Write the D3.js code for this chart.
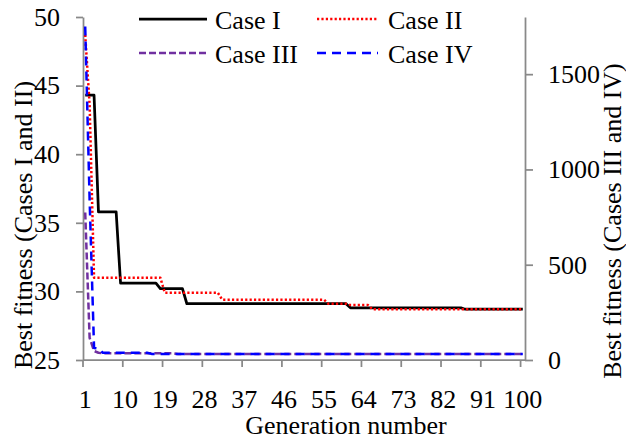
<!DOCTYPE html>
<html>
<head>
<meta charset="utf-8">
<script src="https://cdn.jsdelivr.net/npm/d3@7"></script>
<style>
  html, body { margin: 0; padding: 0; background: #fff; }
  svg text { font-family: "Liberation Serif", "Times New Roman", "DejaVu Serif", serif; font-size: 26px; fill: #000; }
</style>
</head>
<body>
<svg id="chart" width="626" height="439"></svg>
<script>
// generations 1..100 (x categories)
var generations = d3.range(1, 101);
var xTickGens = [1, 10, 19, 28, 37, 46, 55, 64, 73, 82, 91, 100];
var leftTicks = [25, 30, 35, 40, 45, 50];
var rightTicks = [0, 500, 1000, 1500];
var seriesNames = ['Case I', 'Case II', 'Case III', 'Case IV'];

// best fitness per generation
var caseI = [
  44.3, 44.3, 44.3, 35.8, 35.8, 35.8, 35.8, 35.8, 30.6, 30.6,
  30.6, 30.6, 30.6, 30.6, 30.6, 30.6, 30.6, 30.2, 30.2, 30.2,
  30.2, 30.2, 30.2, 29.1, 29.1, 29.1, 29.1, 29.1, 29.1, 29.1,
  29.1, 29.1, 29.1, 29.1, 29.1, 29.1, 29.1, 29.1, 29.1, 29.1,
  29.1, 29.1, 29.1, 29.1, 29.1, 29.1, 29.1, 29.1, 29.1, 29.1,
  29.1, 29.1, 29.1, 29.1, 29.1, 29.1, 29.1, 29.1, 29.1, 29.1,
  28.8, 28.8, 28.8, 28.8, 28.8, 28.8, 28.8, 28.8, 28.8, 28.8,
  28.8, 28.8, 28.8, 28.8, 28.8, 28.8, 28.8, 28.8, 28.8, 28.8,
  28.8, 28.8, 28.8, 28.8, 28.8, 28.8, 28.7, 28.7, 28.7, 28.7,
  28.7, 28.7, 28.7, 28.7, 28.7, 28.7, 28.7, 28.7, 28.7, 28.7
];
var caseII = [
  48.7, 43.6, 31.0, 31.0, 31.0, 31.0, 31.0, 31.0, 31.0, 31.0,
  31.0, 31.0, 31.0, 31.0, 31.0, 31.0, 31.0, 31.0, 29.9, 29.9,
  29.9, 29.9, 29.9, 29.9, 29.9, 29.9, 29.9, 29.9, 29.9, 29.9,
  29.9, 29.4, 29.4, 29.4, 29.4, 29.4, 29.4, 29.4, 29.4, 29.4,
  29.4, 29.4, 29.4, 29.4, 29.4, 29.4, 29.4, 29.4, 29.4, 29.4,
  29.4, 29.4, 29.4, 29.4, 29.4, 29.1, 29.1, 29.1, 29.1, 29.1,
  29.0, 29.0, 29.0, 29.0, 29.0, 28.7, 28.7, 28.7, 28.7, 28.7,
  28.7, 28.7, 28.7, 28.7, 28.7, 28.7, 28.7, 28.7, 28.7, 28.7,
  28.7, 28.7, 28.7, 28.7, 28.7, 28.7, 28.7, 28.7, 28.7, 28.7,
  28.7, 28.7, 28.7, 28.7, 28.7, 28.7, 28.7, 28.7, 28.7, 28.7
];
var caseIII = [
  774, 116, 47, 38, 35, 35, 35, 35, 35, 35,
  35, 35, 35, 35, 35, 35, 35, 35, 35, 35,
  35, 31, 31, 31, 31, 31, 31, 31, 31, 31,
  31, 31, 31, 31, 31, 31, 31, 31, 31, 31,
  31, 31, 31, 31, 31, 31, 31, 31, 31, 31,
  31, 31, 31, 31, 31, 31, 31, 31, 31, 31,
  31, 31, 31, 31, 31, 31, 31, 31, 31, 31,
  31, 31, 31, 31, 31, 31, 31, 31, 31, 31,
  31, 31, 31, 31, 31, 31, 31, 31, 31, 31,
  31, 31, 31, 31, 31, 31, 31, 31, 31, 31
];
var caseIV = [
  1750, 840, 63, 60, 38, 38, 38, 38, 38, 38,
  38, 38, 38, 38, 38, 32, 32, 32, 32, 32,
  32, 32, 32, 32, 32, 32, 32, 32, 32, 32,
  32, 32, 32, 32, 32, 32, 32, 32, 32, 32,
  32, 32, 32, 32, 32, 32, 32, 32, 32, 32,
  32, 32, 32, 32, 32, 32, 32, 32, 32, 32,
  32, 32, 32, 32, 32, 32, 32, 32, 32, 32,
  32, 32, 32, 32, 32, 32, 32, 32, 32, 32,
  32, 32, 32, 32, 32, 32, 32, 32, 32, 32,
  32, 32, 32, 32, 32, 32, 32, 32, 32, 32
];

const AXIS_GREY = '#898989';

var svg = d3.select('#chart');

var x = d3.scaleBand().domain(generations).range([83, 525]).padding(0);
var xMid = (g) => x(g) + x.bandwidth() / 2;
var yLeft = d3.scaleLinear().domain([25, 50]).range([360, 17]);
var yRight = d3.scaleLinear().domain([0, 1800]).range([360, 17]);

// series styles (drawn in Excel order, secondary axis on top)
var series = [
  { name: seriesNames[0], values: caseI, y: yLeft, color: '#000000', width: 2.75, dash: null },
  { name: seriesNames[1], values: caseII, y: yLeft, color: '#ff0000', width: 2.5, dash: '2.2,2.2' },
  { name: seriesNames[2], values: caseIII, y: yRight, color: '#7030a0', width: 2.5, dash: '7,3' },
  { name: seriesNames[3], values: caseIV, y: yRight, color: '#0000ff', width: 2.5, dash: '9,6' },
];

// x axis line + ticks + labels
svg.append('line')
  .attr('x1', 83).attr('x2', 525)
  .attr('y1', 360).attr('y2', 360)
  .attr('stroke', AXIS_GREY).attr('stroke-width', 1.75);

svg.selectAll('line.xtick')
  .data(xTickGens)
  .enter()
  .append('line')
  .attr('class', 'xtick')
  .attr('x1', (d) => x(d)).attr('x2', (d) => x(d))
  .attr('y1', 360).attr('y2', 367)
  .attr('stroke', AXIS_GREY).attr('stroke-width', 1.75);

svg.selectAll('text.xlabel')
  .data(xTickGens)
  .enter()
  .append('text')
  .attr('class', 'xlabel')
  .attr('x', (d) => xMid(d))
  .attr('y', 408)
  .attr('text-anchor', 'middle')
  .text((d) => d);

// left axis
var leftAxis = svg.append('g')
  .attr('transform', 'translate(83,0)')
  .call(d3.axisLeft(yLeft).tickValues(leftTicks).tickFormat(d3.format('d'))
    .tickSize(7).tickSizeOuter(0).tickPadding(16));

// right axis
var rightAxis = svg.append('g')
  .attr('transform', 'translate(525,0)')
  .call(d3.axisRight(yRight).tickValues(rightTicks).tickFormat(d3.format('d'))
    .tickSize(8).tickSizeOuter(0).tickPadding(15));

[leftAxis, rightAxis].forEach((g) => {
  g.attr('font-family', null).attr('font-size', null);
  g.select('.domain').attr('stroke', AXIS_GREY).attr('stroke-width', 1.75);
  g.selectAll('.tick line').attr('stroke', AXIS_GREY).attr('stroke-width', 1.75);
});

// lines
series.forEach((s) => {
  var line = d3.line()
    .x((d, i) => xMid(generations[i]))
    .y((d) => s.y(d));
  svg.append('path')
    .datum(s.values)
    .attr('fill', 'none')
    .attr('stroke', s.color)
    .attr('stroke-width', s.width)
    .attr('stroke-dasharray', s.dash)
    .attr('stroke-linejoin', 'round')
    .attr('d', line);
});

// axis titles
svg.append('text')
  .attr('transform', 'translate(32,225) rotate(-90)')
  .attr('text-anchor', 'middle')
  .text('Best fitness (Cases I and II)');

svg.append('text')
  .attr('transform', 'translate(621,221) rotate(-90)')
  .attr('text-anchor', 'middle')
  .text('Best fitness (Cases III and IV)');

svg.append('text')
  .attr('x', 346)
  .attr('y', 434)
  .attr('text-anchor', 'middle')
  .text('Generation number');

// legend, 2 x 2
var legX0 = [139, 317];
var legX1 = [207, 378];
var legText = [215, 388];
var legY = [19, 53];

var leg = svg.selectAll('g.legend')
  .data(series)
  .enter()
  .append('g')
  .attr('class', 'legend');

leg.append('line')
  .attr('x1', (d, i) => legX0[i % 2])
  .attr('x2', (d, i) => legX1[i % 2])
  .attr('y1', (d, i) => legY[Math.floor(i / 2)])
  .attr('y2', (d, i) => legY[Math.floor(i / 2)])
  .attr('stroke', (d) => d.color)
  .attr('stroke-width', (d) => d.width)
  .attr('stroke-dasharray', (d) => d.dash);

leg.append('text')
  .attr('x', (d, i) => legText[i % 2])
  .attr('y', (d, i) => legY[Math.floor(i / 2)] + 10)
  .text((d) => d.name);
</script>
</body>
</html>
